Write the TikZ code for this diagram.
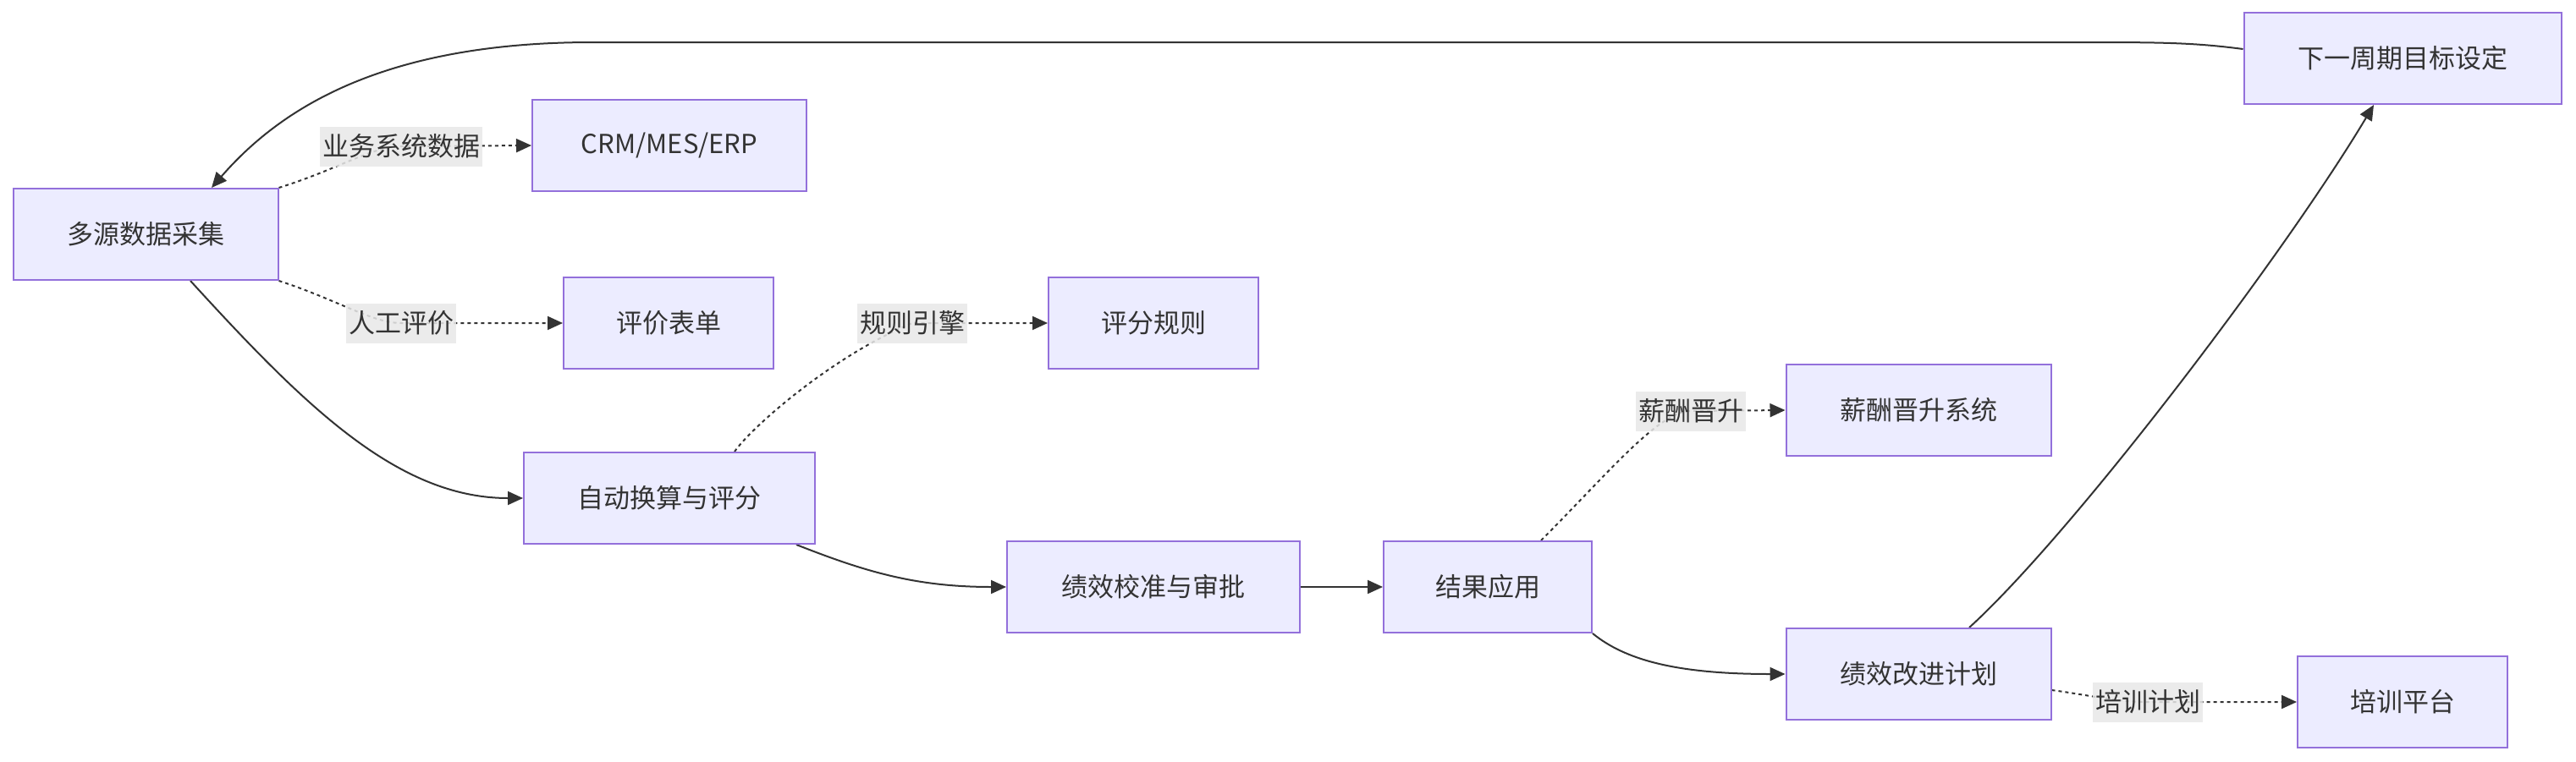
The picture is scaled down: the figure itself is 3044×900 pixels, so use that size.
\documentclass[tikz,border=0pt]{standalone}
\usepackage{fontspec}
\newfontfamily\cjk{Noto Sans CJK SC}
\usetikzlibrary{arrows.meta}
\definecolor{nodefill}{HTML}{ECECFF}
\definecolor{nodeline}{HTML}{9370DB}
\definecolor{edgecol}{HTML}{333333}
\definecolor{lblfill}{HTML}{E8E8E8}
\pgfdeclarelayer{bglayer}
\pgfdeclarelayer{edgelayer}
\pgfsetlayers{bglayer,edgelayer,main}
\begin{document}
\begin{tikzpicture}[x=1pt,y=-1pt,
  box/.style={draw=nodeline, fill=nodefill, line width=2pt, minimum height=108pt,
    inner sep=0pt, font=\cjk\fontsize{31}{37}\selectfont, text=edgecol},
  lbl/.style={fill=lblfill, fill opacity=0.85, text opacity=1, inner xsep=3pt, inner ysep=0pt,
    minimum height=47pt, font=\cjk\fontsize{31}{37}\selectfont, text=edgecol},
  flow/.style={draw=edgecol, line width=2pt, -{Triangle[length=18pt,width=16pt]}},
  dots/.style={flow, dash pattern=on 4pt off 4pt}]
\useasboundingbox (0,0) rectangle (3044,900);
\begin{pgfonlayer}{bglayer}
  \fill[white] (0,0) rectangle (3044,900);
\end{pgfonlayer}

% nodes
\node[box, minimum width=313pt] (A) at (172,277) {多源数据采集};
\node[box, minimum width=324pt] (B) at (791,172) {CRM/MES/ERP};
\node[box, minimum width=248pt] (C) at (790,382) {评价表单};
\node[box, minimum width=248pt] (D) at (1363,382) {评分规则};
\node[box, minimum width=344pt] (E) at (791,589) {自动换算与评分};
\node[box, minimum width=346pt] (F) at (1363,694) {绩效校准与审批};
\node[box, minimum width=246pt] (G) at (1758,694) {结果应用};
\node[box, minimum width=313pt] (H) at (2267,485) {薪酬晋升系统};
\node[box, minimum width=313pt] (I) at (2267,797) {绩效改进计划};
\node[box, minimum width=248pt] (J) at (2839,830) {培训平台};
\node[box, minimum width=375pt] (K) at (2839,69) {下一周期目标设定};

% edge labels
\node[lbl] (L1) at (474,173) {业务系统数据};
\node[lbl] (L2) at (474,382) {人工评价};
\node[lbl] (L3) at (1078,382) {规则引擎};
\node[lbl] (L4) at (1998,486) {薪酬晋升};
\node[lbl] (L5) at (2538,830) {培训计划};

\begin{pgfonlayer}{edgelayer}
  \draw[dots] (A.north east) .. controls (400,200) and (440,173) .. (L1.center) -- (B.west);
  \draw[dots] (A.south east) .. controls (400,355) and (440,382) .. (L2.center) -- (C.west);
  \draw[flow] ([xshift=53pt]A.south) .. controls (360,480) and (470,589) .. (E.west);
  \draw[dots] ([xshift=77pt]E.north) .. controls (888,505) and (985,420) .. (L3.center) -- (D.west);
  \draw[flow] ([xshift=150pt]E.south) .. controls (1020,675) and (1080,694) .. (F.west);
  \draw[flow] (F.east) -- (G.west);
  \draw[dots] ([xshift=63pt]G.north) .. controls (1900,560) and (1960,486) .. (L4.center) -- (H.west);
  \draw[flow] (G.south east) .. controls (1920,780) and (1980,797) .. (I.west);
  \draw[dots] ([yshift=-19pt]I.east) .. controls (2470,822) and (2500,830) .. (L5.center) -- (J.west);
  \draw[flow] ([xshift=60pt]I.north) .. controls (2450,630) and (2700,300) .. ([xshift=-34pt]K.south);
  \draw[flow] ([yshift=11pt]K.west) .. controls (2590,50) and (2550,50) .. (2450,50) -- (700,50)
     .. controls (450,50) and (330,130) .. ([xshift=78pt]A.north);
\end{pgfonlayer}
\end{tikzpicture}
\end{document}
